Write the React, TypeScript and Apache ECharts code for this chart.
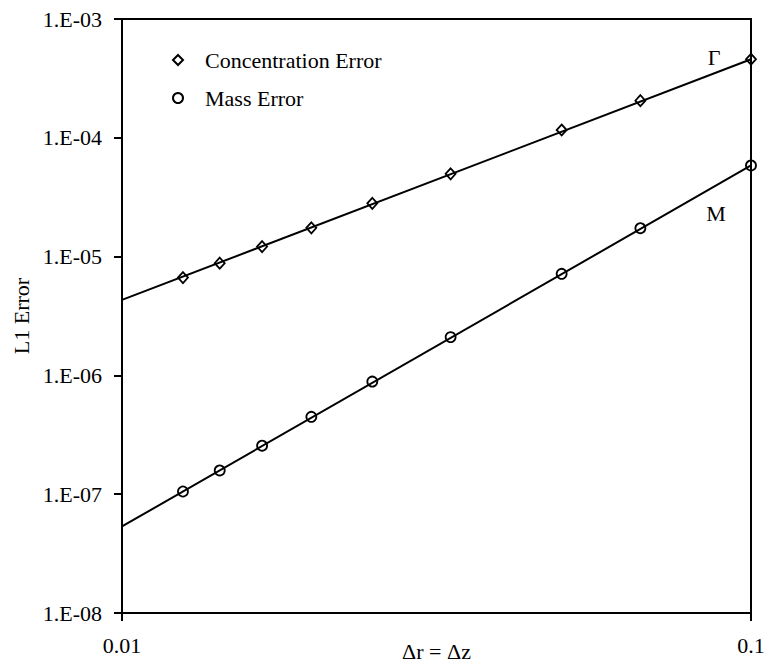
import React, { useEffect, useRef } from "react";
import * as echarts from "echarts";

const xValues = [0.0125, 0.0143, 0.0167, 0.02, 0.025, 0.0333, 0.05, 0.0667, 0.1];
const concentrationError = [6.66e-6, 8.8e-6, 1.214e-5, 1.745e-5, 2.81e-5, 4.97e-5, 1.164e-4, 2.054e-4, 4.58e-4];
const massError = [1.054e-7, 1.585e-7, 2.56e-7, 4.48e-7, 8.88e-7, 2.1e-6, 7.16e-6, 1.734e-5, 5.85e-5];
const fitX = [0.01, 0.1];
const concentrationFit = [4.32e-6, 4.58e-4];
const massFit = [5.35e-8, 5.85e-5];
const xTickLabels = ["0.01", "0.1"]; // exponents -2, -1
const yTickLabels = ["1.E-08", "1.E-07", "1.E-06", "1.E-05", "1.E-04", "1.E-03"]; // exponents -8..-3
const seriesNames = ["Concentration Error", "Mass Error"];
const curveLabels = ["Γ", "M"];

const FONT = "'Liberation Serif', 'Times New Roman', serif";

export default function App() {
  const ref = useRef<HTMLDivElement>(null);
  useEffect(() => {
    if (!ref.current) return;
    const chart = echarts.init(ref.current, null, { renderer: "svg" });
    const pts = (ys: number[]) => xValues.map((x, i) => [x, ys[i]]);
    const fit = (ys: number[]) => fitX.map((x, i) => [x, ys[i]]);
    const withLabel = (data: number[][], text: string, offset: number[]) =>
      data.map((d, i) =>
        i === data.length - 1
          ? {
              value: d,
              label: {
                show: true,
                position: "inside",
                offset,
                formatter: text,
                fontFamily: FONT,
                fontSize: 22,
                color: "#000",
              },
            }
          : { value: d }
      );
    const markerStyle = {
      color: "rgba(255,255,255,0)",
      borderColor: "#000",
      borderWidth: 1.8,
      opacity: 1,
    };
    chart.setOption({
      animation: false,
      backgroundColor: "#fff",
      grid: {
        left: 122,
        right: 14,
        top: 19,
        bottom: 50,
        outerBoundsMode: "none",
        containLabel: false,
        show: true,
        borderColor: "#000",
        borderWidth: 2,
        backgroundColor: "transparent",
      },
      legend: {
        data: seriesNames,
        orient: "vertical",
        left: 167,
        top: 44,
        itemWidth: 10,
        itemHeight: 10,
        itemGap: 16,
        textStyle: {
          fontFamily: FONT,
          fontSize: 22,
          color: "#000",
          padding: [0, 0, 0, 17],
        },
        selectedMode: false,
      },
      xAxis: {
        type: "log",
        logBase: 10,
        min: 0.01,
        max: 0.1,
        interval: 1,
        name: "Δr = Δz",
        nameLocation: "middle",
        nameGap: 27,
        nameMoveOverlap: false,
        nameTextStyle: { fontFamily: FONT, fontSize: 22, color: "#000" },
        axisLine: { show: true, lineStyle: { color: "#000", width: 2 } },
        axisTick: { show: true, inside: false, length: 8, lineStyle: { color: "#000", width: 2 } },
        axisLabel: {
          margin: 21,
          fontFamily: FONT,
          fontSize: 22,
          color: "#000",
          formatter: (v: number) => xTickLabels[Math.round(Math.log10(v)) + 2] ?? "",
        },
        splitLine: { show: false },
        minorTick: { show: false },
      },
      yAxis: {
        type: "log",
        logBase: 10,
        min: 1e-8,
        max: 1e-3,
        interval: 1,
        name: "L1 Error",
        nameLocation: "middle",
        nameGap: 90,
        nameMoveOverlap: false,
        nameRotate: 90,
        nameTextStyle: { fontFamily: FONT, fontSize: 22, color: "#000" },
        axisLine: { show: true, lineStyle: { color: "#000", width: 2 } },
        axisTick: { show: true, inside: false, length: 8, lineStyle: { color: "#000", width: 2 } },
        axisLabel: {
          margin: 20,
          fontFamily: FONT,
          fontSize: 22,
          color: "#000",
          formatter: (v: number) => yTickLabels[Math.round(Math.log10(v)) + 8] ?? "",
        },
        splitLine: { show: false },
        minorTick: { show: false },
      },
      series: [
        {
          name: "Concentration Fit",
          type: "line",
          data: fit(concentrationFit),
          symbol: "none",
          lineStyle: { color: "#000", width: 2 },
          z: 2,
        },
        {
          name: "Mass Fit",
          type: "line",
          data: fit(massFit),
          symbol: "none",
          lineStyle: { color: "#000", width: 2 },
          z: 2,
        },
        {
          name: seriesNames[0],
          type: "scatter",
          symbol: "diamond",
          symbolSize: [10, 11],
          itemStyle: markerStyle,
          data: withLabel(pts(concentrationError), curveLabels[0], [-37, -2]),
          z: 3,
        },
        {
          name: seriesNames[1],
          type: "scatter",
          symbol: "circle",
          symbolSize: 10,
          itemStyle: markerStyle,
          data: withLabel(pts(massError), curveLabels[1], [-35, 48]),
          z: 3,
        },
      ],
    });
    return () => chart.dispose();
  }, []);
  return (
    <div
      ref={ref}
      style={{ position: "absolute", left: 0, top: 0, width: 765, height: 663 }}
    />
  );
}
